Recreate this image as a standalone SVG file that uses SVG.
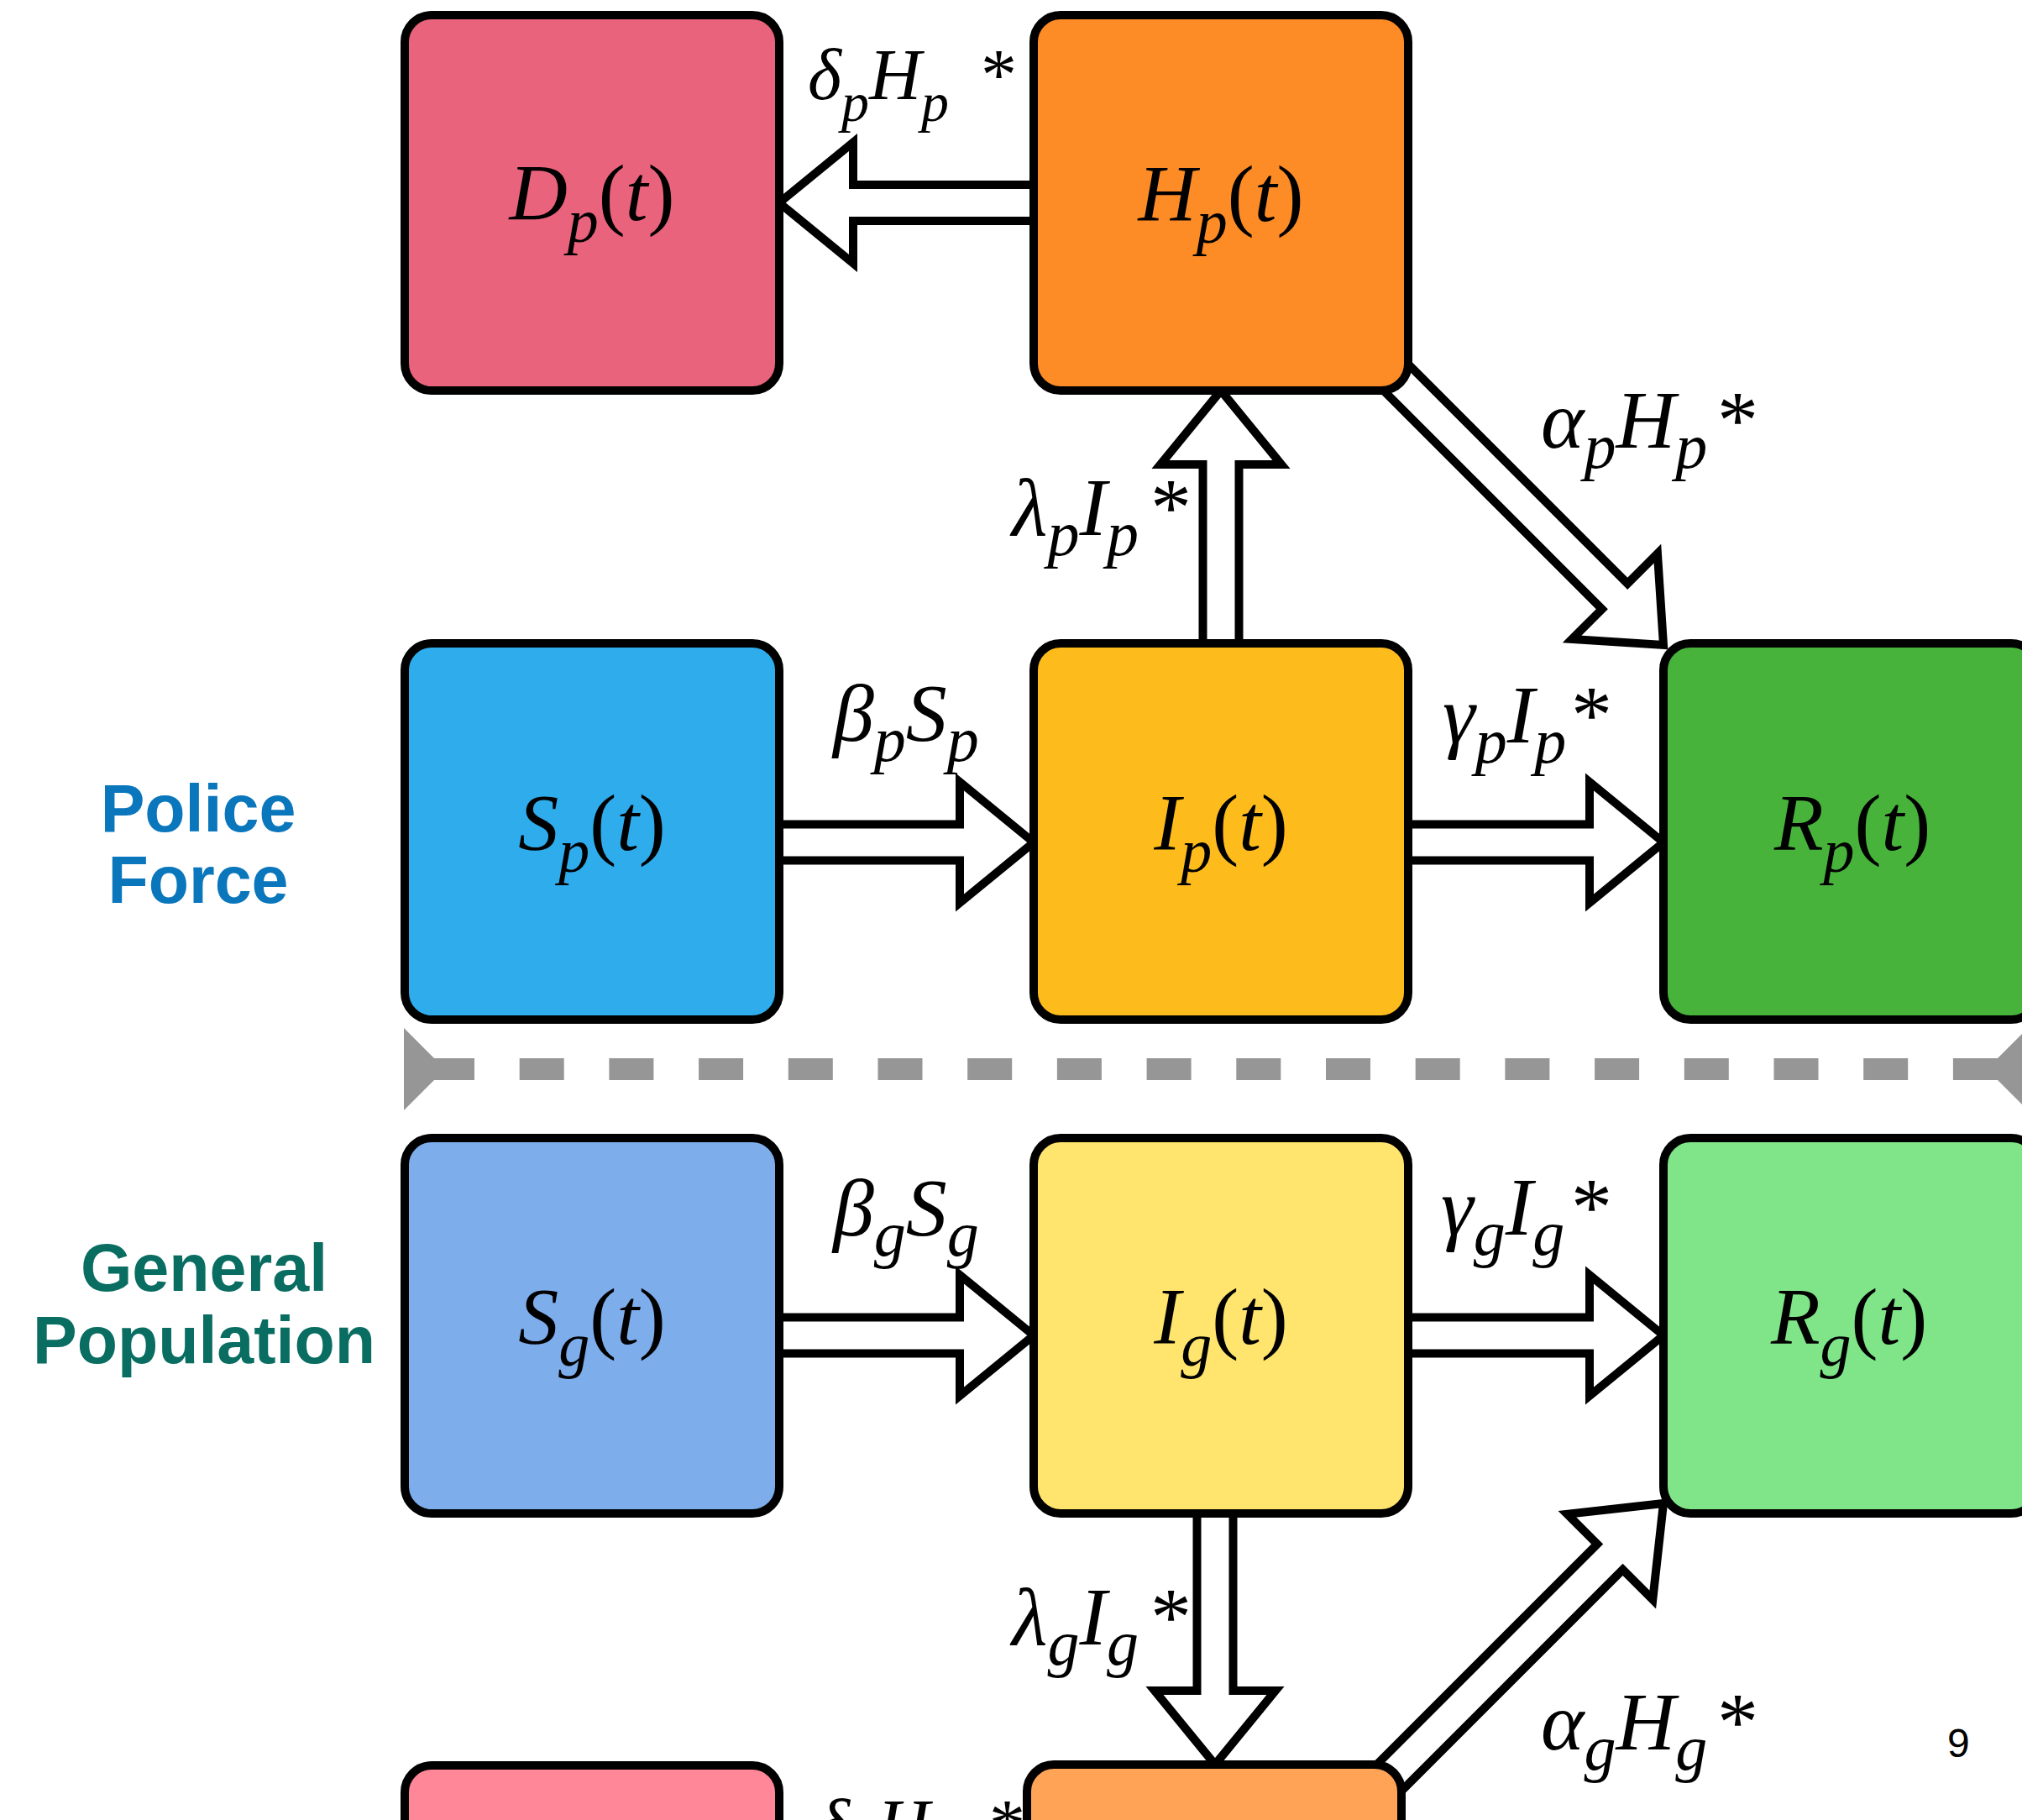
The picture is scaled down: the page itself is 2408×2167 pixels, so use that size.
<svg xmlns="http://www.w3.org/2000/svg" width="2408" height="2167" viewBox="0 0 2408 2167">
<style>
.box{stroke:#000;stroke-width:10}
.arr{fill:#fff;stroke:#000;stroke-width:10;stroke-linejoin:miter;stroke-miterlimit:10}
.m{font-family:"Liberation Serif","Times New Roman",serif;font-style:italic;fill:#000}
.up{font-style:normal}
.nl{font-size:96px;text-anchor:middle}
.sb{font-size:74px}
.el{font-size:98px}
.es{font-size:76px}
.grp{font-family:"Liberation Sans",Arial,sans-serif;font-weight:bold;font-size:79px;text-anchor:middle}
</style>
<defs>
<path id="a331" d="M0,0 L-88,-72 L-88,-21.5 L-331,-21.5 L-331,21.5 L-88,21.5 L-88,72 Z"/>
<path id="a480" d="M0,0 L-90,-72 L-90,-21.5 L-480,-21.5 L-480,21.5 L-90,21.5 L-90,72 Z"/>
<path id="a480s" d="M0,0 L-82,-72 L-82,-21.5 L-480,-21.5 L-480,21.5 L-82,21.5 L-82,72 Z"/>
</defs>
<rect width="2408" height="2167" fill="#fff"/>

<g id="connectors">
<use href="#a331" class="arr" transform="translate(928,241.5) rotate(180)"/>
<use href="#a331" class="arr" transform="translate(1231,1003)"/>
<use href="#a331" class="arr" transform="translate(1981,1003)"/>
<use href="#a331" class="arr" transform="translate(1454,465) rotate(-90)"/>
<use href="#a480s" class="arr" transform="translate(1981,768) rotate(45)"/>
<use href="#a331" class="arr" transform="translate(1231,1590)"/>
<use href="#a331" class="arr" transform="translate(1981,1590)"/>
<use href="#a331" class="arr" transform="translate(1447,2101) rotate(90)"/>
<use href="#a480" class="arr" transform="translate(1981,1790) rotate(-45)"/>
</g>

<g id="divider">
<line x1="512" y1="1273" x2="2380" y2="1273" stroke="#969696" stroke-width="26" stroke-dasharray="53 53.7"/>
<polygon points="481,1224 530,1273 481,1322" fill="#969696"/>
<polygon points="2415,1224 2366,1273 2415,1322" fill="#969696"/>
</g>

<g id="node-Dp">
<rect class="box" x="482" y="18" width="446" height="447" rx="32" fill="#EA637C"/>
<text class="m nl" x="705" y="262">D<tspan class="sb" dy="26">p</tspan><tspan class="up" dy="-26">(</tspan>t<tspan class="up">)</tspan></text>
</g>
<g id="node-Hp">
<rect class="box" x="1231" y="18" width="446" height="447" rx="32" fill="#FD8B26"/>
<text class="m nl" x="1454" y="263">H<tspan class="sb" dy="26">p</tspan><tspan class="up" dy="-26">(</tspan>t<tspan class="up">)</tspan></text>
</g>
<g id="node-Sp">
<rect class="box" x="482" y="766" width="446" height="448" rx="32" fill="#2EACEC"/>
<text class="m nl" x="705" y="1012">S<tspan class="sb" dy="26">p</tspan><tspan class="up" dy="-26">(</tspan>t<tspan class="up">)</tspan></text>
</g>
<g id="node-Ip">
<rect class="box" x="1231" y="766" width="446" height="448" rx="32" fill="#FDBC1C"/>
<text class="m nl" x="1454" y="1012">I<tspan class="sb" dy="26">p</tspan><tspan class="up" dy="-26">(</tspan>t<tspan class="up">)</tspan></text>
</g>
<g id="node-Rp">
<rect class="box" x="1981" y="766" width="446" height="448" rx="32" fill="#47B33B"/>
<text class="m nl" x="2206" y="1012">R<tspan class="sb" dy="26">p</tspan><tspan class="up" dy="-26">(</tspan>t<tspan class="up">)</tspan></text>
</g>
<g id="node-Sg">
<rect class="box" x="482" y="1355" width="446" height="447" rx="32" fill="#7EADEC"/>
<text class="m nl" x="705" y="1600">S<tspan class="sb" dy="26">g</tspan><tspan class="up" dy="-26">(</tspan>t<tspan class="up">)</tspan></text>
</g>
<g id="node-Ig">
<rect class="box" x="1231" y="1355" width="446" height="447" rx="32" fill="#FFE46E"/>
<text class="m nl" x="1454" y="1600">I<tspan class="sb" dy="26">g</tspan><tspan class="up" dy="-26">(</tspan>t<tspan class="up">)</tspan></text>
</g>
<g id="node-Rg">
<rect class="box" x="1981" y="1355" width="446" height="447" rx="32" fill="#80E488"/>
<text class="m nl" x="2202" y="1600">R<tspan class="sb" dy="26">g</tspan><tspan class="up" dy="-26">(</tspan>t<tspan class="up">)</tspan></text>
</g>
<g id="node-Dg">
<rect class="box" x="482" y="2102" width="446" height="447" rx="32" fill="#FF8798"/>
</g>
<g id="node-Hg">
<rect class="box" x="1223" y="2101" width="446" height="447" rx="32" fill="#FFA356"/>
</g>

<g id="edge-labels">
<text class="m" font-size="86" x="962" y="118">δ<tspan font-size="66" dy="26">p</tspan><tspan dy="-26">H</tspan><tspan font-size="66" dy="26">p</tspan><tspan class="up" x="1168" dy="-26">*</tspan></text>
<text class="m el" x="1205" y="637">λ<tspan class="es" dy="24">p</tspan><tspan dy="-24">I</tspan><tspan class="es" dy="24">p</tspan><tspan class="up" x="1370" dy="-24">*</tspan></text>
<text class="m el" x="1835" y="533">α<tspan class="es" dy="24">p</tspan><tspan dy="-24">H</tspan><tspan class="es" dy="24">p</tspan><tspan class="up" x="2045" dy="-24">*</tspan></text>
<text class="m el" x="992" y="882">β<tspan class="es" dy="24">p</tspan><tspan dy="-24">S</tspan><tspan class="es" dy="24">p</tspan></text>
<text class="m el" x="1718" y="884">γ<tspan class="es" dy="24">p</tspan><tspan dy="-24">I</tspan><tspan class="es" dy="24">p</tspan><tspan class="up" x="1871" dy="-24">*</tspan></text>
<text class="m el" x="992" y="1471">β<tspan class="es" dy="24">g</tspan><tspan dy="-24">S</tspan><tspan class="es" dy="24">g</tspan></text>
<text class="m el" x="1716" y="1470">γ<tspan class="es" dy="24">g</tspan><tspan dy="-24">I</tspan><tspan class="es" dy="24">g</tspan><tspan class="up" x="1871" dy="-24">*</tspan></text>
<text class="m el" x="1205" y="1958">λ<tspan class="es" dy="24">g</tspan><tspan dy="-24">I</tspan><tspan class="es" dy="24">g</tspan><tspan class="up" x="1370" dy="-24">*</tspan></text>
<text class="m el" x="1835" y="2083">α<tspan class="es" dy="24">g</tspan><tspan dy="-24">H</tspan><tspan class="es" dy="24">g</tspan><tspan class="up" x="2045" dy="-24">*</tspan></text>
<text class="m" font-size="86" x="972" y="2202">δ<tspan font-size="66" dy="26">g</tspan><tspan dy="-26">H</tspan><tspan font-size="66" dy="26">g</tspan><tspan class="up" x="1178" dy="-26">*</tspan></text>
</g>

<g id="group-labels">
<text class="grp" fill="#0A76BC" x="236" y="990">Police</text>
<text class="grp" fill="#0A76BC" x="236" y="1075">Force</text>
<text class="grp" fill="#096D62" x="243" y="1537">General</text>
<text class="grp" fill="#096D62" x="243" y="1623">Population</text>
</g>

<text x="2319" y="2092" font-family="'Liberation Sans',Arial,sans-serif" font-size="48" fill="#000">9</text>
</svg>
